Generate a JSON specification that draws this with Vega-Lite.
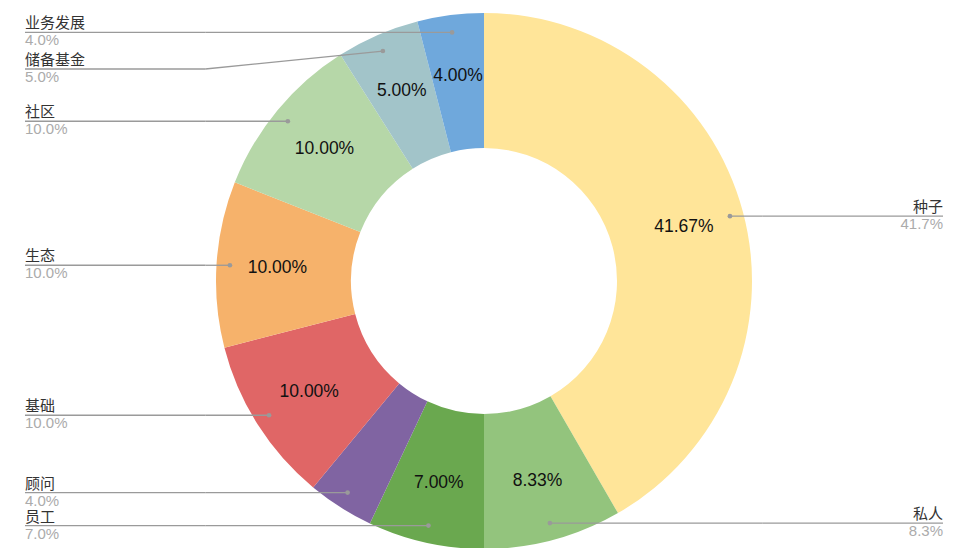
{
  "$schema": "https://vega.github.io/schema/vega-lite/v6.json",
  "width": 960,
  "height": 548,
  "autosize": {"type": "fit", "contains": "padding"},
  "padding": {"left": 8, "top": 14, "right": 0, "bottom": 0},
  "background": "white",
  "config": {"view": {"stroke": null}},
  "data": {
    "values": [
      {"cat": "种子", "value": 41.67},
      {"cat": "私人", "value": 8.33},
      {"cat": "员工", "value": 7},
      {"cat": "顾问", "value": 4},
      {"cat": "基础", "value": 10},
      {"cat": "生态", "value": 10},
      {"cat": "社区", "value": 10},
      {"cat": "储备基金", "value": 5},
      {"cat": "业务发展", "value": 4}
    ]
  },
  "transform": [
    {"window": [{"op": "row_number", "as": "i"}]},
    {"window": [{"op": "sum", "field": "value", "as": "cum"}], "frame": [null, 0], "sort": [{"field": "i"}]},
    {"joinaggregate": [{"op": "sum", "field": "value", "as": "total"}]},
    {"calculate": "(datum.cum - datum.value / 2) / datum.total * 2 * PI", "as": "mid"},
    {"calculate": "0.95 * sin(datum.mid)", "as": "dx"},
    {"calculate": "0.935 * cos(datum.mid)", "as": "dy"},
    {"calculate": "datum.dx < 0 ? 'L' : 'R'", "as": "side"},
    {"calculate": "datum.cat === '储备基金' ? datum.dy - 0.067 : datum.dy", "as": "ly"},
    {"calculate": "datum.side === 'L' ? -1.04 : 1.04", "as": "ex"},
    {"calculate": "datum.side === 'L' ? -1.7127 : 1.7127", "as": "tx"},
    {"calculate": "format(datum.value, '.2f') + '%'", "as": "pct"},
    {"calculate": "format(datum.value, '.1f') + '%'", "as": "short"},
    {"calculate": "datum.cat === '顾问' ? '' : datum.pct", "as": "inlabel"}
  ],
  "layer": [
    {
      "mark": {"type": "arc", "innerRadius": 133, "outerRadius": 268},
      "encoding": {
        "theta": {"field": "value", "type": "quantitative", "stack": true},
        "order": {"field": "i", "type": "quantitative"},
        "color": {
          "field": "cat",
          "type": "nominal",
          "legend": null,
          "scale": {
            "domain": ["种子", "私人", "员工", "顾问", "基础", "生态", "社区", "储备基金", "业务发展"],
            "range": ["#FFE599", "#93C47D", "#6AA84F", "#8064A2", "#E06666", "#F6B26B", "#B6D7A8", "#A2C4C9", "#6FA8DC"]
          }
        }
      }
    },
    {
      "mark": {"type": "text", "radius": 207, "fontSize": 17.5, "font": "Liberation Sans, Noto Sans CJK SC", "color": "#111111"},
      "encoding": {
        "theta": {"field": "value", "type": "quantitative", "stack": true},
        "order": {"field": "i", "type": "quantitative"},
        "text": {"field": "inlabel"}
      }
    },
    {
      "mark": {"type": "rule", "color": "#9a9a9a", "strokeWidth": 1.3},
      "encoding": {
        "x": {"field": "dx", "type": "quantitative", "axis": null, "scale": {"domain": [-1.7761, 1.7761], "nice": false, "zero": false}},
        "y": {"field": "dy", "type": "quantitative", "axis": null, "scale": {"domain": [-0.99627, 0.99627], "nice": false, "zero": false}},
        "x2": {"field": "ex"},
        "y2": {"field": "ly"}
      }
    },
    {
      "mark": {"type": "rule", "color": "#9a9a9a", "strokeWidth": 1.3},
      "encoding": {
        "x": {"field": "ex", "type": "quantitative", "axis": null, "scale": {"domain": [-1.7761, 1.7761], "nice": false, "zero": false}},
        "y": {"field": "ly", "type": "quantitative", "axis": null, "scale": {"domain": [-0.99627, 0.99627], "nice": false, "zero": false}},
        "x2": {"field": "tx"},
        "y2": {"field": "ly"}
      }
    },
    {
      "mark": {"type": "point", "filled": true, "color": "#9a9a9a", "size": 22, "opacity": 1},
      "encoding": {
        "x": {"field": "dx", "type": "quantitative", "axis": null, "scale": {"domain": [-1.7761, 1.7761], "nice": false, "zero": false}},
        "y": {"field": "dy", "type": "quantitative", "axis": null, "scale": {"domain": [-0.99627, 0.99627], "nice": false, "zero": false}}
      }
    },
    {
      "transform": [{"filter": "datum.side === 'L'"}],
      "mark": {"type": "text", "align": "left", "baseline": "bottom", "dy": -1, "fontSize": 15, "font": "Liberation Sans, Noto Sans CJK SC", "color": "#333333"},
      "encoding": {
        "x": {"field": "tx", "type": "quantitative", "axis": null, "scale": {"domain": [-1.7761, 1.7761], "nice": false, "zero": false}},
        "y": {"field": "ly", "type": "quantitative", "axis": null, "scale": {"domain": [-0.99627, 0.99627], "nice": false, "zero": false}},
        "text": {"field": "cat"}
      }
    },
    {
      "transform": [{"filter": "datum.side === 'L'"}],
      "mark": {"type": "text", "align": "left", "baseline": "top", "dy": 1, "fontSize": 15, "font": "Liberation Sans, Noto Sans CJK SC", "color": "#ababab"},
      "encoding": {
        "x": {"field": "tx", "type": "quantitative", "axis": null, "scale": {"domain": [-1.7761, 1.7761], "nice": false, "zero": false}},
        "y": {"field": "ly", "type": "quantitative", "axis": null, "scale": {"domain": [-0.99627, 0.99627], "nice": false, "zero": false}},
        "text": {"field": "short"}
      }
    },
    {
      "transform": [{"filter": "datum.side === 'R'"}],
      "mark": {"type": "text", "align": "right", "baseline": "bottom", "dy": -1, "fontSize": 15, "font": "Liberation Sans, Noto Sans CJK SC", "color": "#333333"},
      "encoding": {
        "x": {"field": "tx", "type": "quantitative", "axis": null, "scale": {"domain": [-1.7761, 1.7761], "nice": false, "zero": false}},
        "y": {"field": "ly", "type": "quantitative", "axis": null, "scale": {"domain": [-0.99627, 0.99627], "nice": false, "zero": false}},
        "text": {"field": "cat"}
      }
    },
    {
      "transform": [{"filter": "datum.side === 'R'"}],
      "mark": {"type": "text", "align": "right", "baseline": "top", "dy": 1, "fontSize": 15, "font": "Liberation Sans, Noto Sans CJK SC", "color": "#ababab"},
      "encoding": {
        "x": {"field": "tx", "type": "quantitative", "axis": null, "scale": {"domain": [-1.7761, 1.7761], "nice": false, "zero": false}},
        "y": {"field": "ly", "type": "quantitative", "axis": null, "scale": {"domain": [-0.99627, 0.99627], "nice": false, "zero": false}},
        "text": {"field": "short"}
      }
    }
  ]
}
